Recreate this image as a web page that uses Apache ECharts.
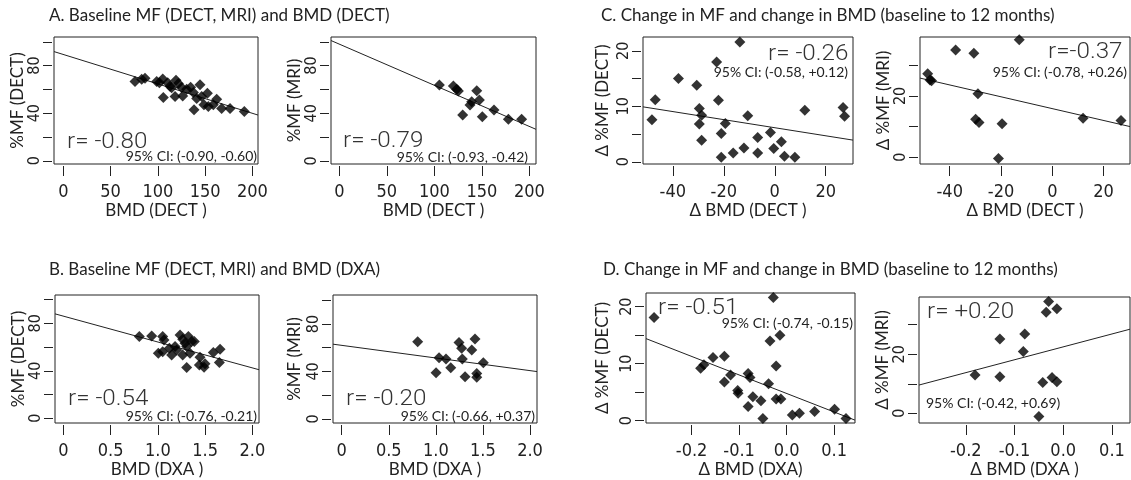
<!DOCTYPE html>
<html>
<head>
<meta charset="UTF-8">
<title>MF vs BMD</title>
<script src="https://cdn.jsdelivr.net/npm/echarts@6/dist/echarts.min.js"></script>
<style>
  html, body { margin: 0; padding: 0; background: #fff; }
  #main { width: 1131px; height: 480px; }
</style>
</head>
<body>
<div id="main"></div>
<script>
// ---- data ----
// A: baseline MF vs BMD (DECT)
var a1Bmd = [75.8, 82.9, 86.4, 98.8, 105.2, 101.6, 105.8, 110.4, 112.9, 119.2, 121.7, 125.2, 118.2, 126.3, 130.5, 134.7, 137.6, 144.6, 138.3, 141.1, 146.4, 148.8, 152.4, 153.4, 158.7, 162.3, 167.5, 176.4, 191.5, 114.6];
var a1Mf  = [66.6, 68.5, 69.3, 66.6, 68.8, 65.5, 53.1, 65.5, 62.7, 67.7, 65.0, 61.5, 54.0, 54.5, 60.1, 61.8, 57.3, 63.8, 42.8, 52.3, 54.0, 47.0, 56.8, 45.6, 47.0, 51.7, 44.0, 44.0, 41.4, 61.3];
var a2Bmd = [105.3, 120.0, 123.5, 125.3, 144.6, 139.3, 137.5, 147.4, 129.8, 150.5, 162.8, 177.9, 191.9];
var a2Mf  = [63.8, 62.9, 60.1, 58.7, 59.0, 49.8, 47.0, 51.2, 38.6, 37.2, 42.8, 35.0, 35.0];
// B: baseline MF vs BMD (DXA)
var b1Bmd = [0.804, 0.935, 1.051, 1.065, 1.005, 1.051, 1.146, 1.182, 1.235, 1.263, 1.287, 1.323, 1.358, 1.386, 1.263, 1.340, 1.305, 1.446, 1.439, 1.499, 1.489, 1.587, 1.658, 1.651, 1.199, 1.305, 1.122];
var b1Mf  = [68.8, 69.3, 68.8, 66.0, 54.7, 56.1, 53.3, 60.4, 70.2, 66.5, 63.2, 68.8, 64.6, 64.6, 53.3, 54.7, 42.7, 51.4, 44.9, 45.8, 42.9, 55.3, 58.1, 46.9, 57.5, 60.4, 58.9];
var b2Bmd = [0.807, 1.002, 1.034, 1.108, 1.158, 1.246, 1.274, 1.281, 1.310, 1.381, 1.416, 1.434, 1.434, 1.504];
var b2Mf  = [65.1, 39.0, 51.6, 50.5, 43.2, 64.3, 59.5, 50.5, 35.6, 58.1, 67.4, 38.3, 35.1, 47.4];
// C: change in MF vs change in BMD (DECT)
var c1Dbmd = [-48.2, -46.9, -37.8, -30.6, -29.6, -28.7, -29.6, -28.7, -22.8, -22.1, -19.4, -21.0, -21.0, -13.7, -16.3, -12.1, -10.6, -6.7, -6.7, -1.7, -0.4, 2.6, 3.8, 7.9, 11.8, 26.8, 27.4];
var c1Dmf  = [7.6, 11.2, 15.0, 13.8, 9.6, 8.4, 6.8, 3.9, 18.0, 11.1, 6.9, 5.1, 0.8, 21.6, 1.6, 2.5, 8.3, 4.4, 1.6, 5.3, 2.4, 3.6, 1.0, 0.8, 9.3, 9.8, 8.2];
var c2Dbmd = [-48.6, -47.7, -47.1, -37.7, -30.6, -12.9, -29.0, -29.9, -28.6, -19.6, -21.0, 12.0, 26.8];
var c2Dmf  = [27.2, 25.2, 24.9, 35.0, 33.9, 38.3, 20.7, 12.4, 11.3, 10.9, -0.4, 12.7, 12.0];
// D: change in MF vs change in BMD (DXA)
var d1Dbmd = [-0.279, -0.181, -0.174, -0.155, -0.131, -0.131, -0.118, -0.103, -0.102, -0.081, -0.077, -0.081, -0.071, -0.054, -0.050, -0.038, -0.035, -0.028, -0.022, -0.014, -0.022, -0.012, 0.012, 0.027, 0.059, 0.101, 0.125];
var d1Dmf  = [18.1, 9.2, 9.8, 11.1, 11.3, 6.8, 8.0, 5.3, 4.8, 8.3, 7.6, 2.5, 4.2, 3.5, 0.4, 6.5, 14.0, 21.6, 9.6, 15.0, 3.8, 3.8, 1.0, 1.3, 1.6, 2.0, 0.4];
var d2Dbmd = [-0.181, -0.130, -0.130, -0.079, -0.082, -0.030, -0.035, -0.013, -0.042, -0.023, -0.013, -0.050];
var d2Dmf  = [13.0, 25.2, 12.4, 26.9, 20.9, 37.9, 34.2, 35.4, 10.4, 12.1, 10.7, -1.1];

// fitted lines: [intercept, slope]
var fitA1 = [89.3, -0.247];
var fitA2 = [98.0, -0.345];
var fitB1 = [86.0, -21.8];
var fitB2 = [62.0, -10.65];
var fitC1 = [6.14, -0.0728];
var fitC2 = [15.85, -0.193];
var fitD1 = [4.78, -32.5];
var fitD2 = [22.5, 43.7];

// ticks and tick labels
var ticksBmdDect = [0, 50, 100, 150, 200];
var ticksBmdDxa = [0, 0.5, 1, 1.5, 2];
var labelsBmdDxa = ['0', '0.5', '1.0', '1.5', '2.0'];
var ticksDBmdDect = [-40, -20, 0, 20];
var ticksDBmdDxa = [-0.2, -0.1, 0, 0.1];
var labelsDBmdDxa = ['-0.2', '-0.1', '0.0', '0.1'];
var ticksMf = [0, 20, 40, 60, 80, 100];
var labelsMf = [0, 40, 80];
var ticksDMfDect = [0, 5, 10, 15, 20];
var labelsDMfDect = [0, 10, 20];
var ticksDMfMri = [0, 10, 20, 30];
var labelsDMfMri = [0, 20];

var titles = [
  'A. Baseline MF (DECT, MRI) and BMD (DECT)',
  'B. Baseline MF (DECT, MRI) and BMD (DXA)',
  'C. Change in MF and change in BMD (baseline to 12 months)',
  'D. Change in MF and change in BMD (baseline to 12 months)'
];

// ---- layout ----
var labelFont = "'Liberation Sans Narrow', 'DejaVu Sans Condensed', sans-serif";
var textFont = "Lato, 'Open Sans', sans-serif";
var ink = '#222';

var panels = [
  { x: a1Bmd, y: a1Mf, fit: fitA1, box: [54, 37, 204, 127], xr: [-9.9, 206], yr: [-2.7, 104],
    xt: ticksBmdDect, yt: ticksMf, yl: labelsMf, xn: 'BMD (DECT )', yn: '%MF (DECT)', yGap: 24,
    r: 'r= -0.80', rPos: [67, 142, 'left'], ci: '95% CI: (-0.90, -0.60)', ciPos: [257, 156, 'right'] },
  { x: a2Bmd, y: a2Mf, fit: fitA2, box: [331, 37, 205, 127], xr: [-8.8, 207], yr: [-2.5, 104],
    xt: ticksBmdDect, yt: ticksMf, yl: labelsMf, xn: 'BMD (DECT )', yn: '%MF (MRI)', yGap: 26,
    r: 'r= -0.79', rPos: [343, 141, 'left'], ci: '95% CI: (-0.93, -0.42)', ciPos: [528, 157, 'right'] },
  { x: c1Dbmd, y: c1Dmf, fit: fitC1, box: [643, 37, 210, 127], xr: [-51.7, 30.7], yr: [-0.4, 22.5],
    xt: ticksDBmdDect, yt: ticksDMfDect, yl: labelsDMfDect, xn: '\u0394 BMD (DECT )', yn: '\u0394 %MF (DECT)', yGap: 30,
    r: 'r= -0.26', rPos: [768, 54, 'left'], ci: '95% CI: (-0.58, +0.12)', ciPos: [848, 72, 'right'] },
  { x: c2Dbmd, y: c2Dmf, fit: fitC2, box: [920, 37, 210, 127], xr: [-51.6, 30.3], yr: [-2.2, 39.2],
    xt: ticksDBmdDect, yt: ticksDMfMri, yl: labelsDMfMri, xn: '\u0394 BMD (DECT )', yn: '\u0394 %MF (MRI)', yGap: 25,
    r: 'r=-0.37', rPos: [1048, 52, 'left'], ci: '95% CI: (-0.78, +0.26)', ciPos: [1127, 72, 'right'] },
  { x: b1Bmd, y: b1Mf, fit: fitB1, box: [55, 295, 204, 128], xr: [-0.088, 2.07], yr: [-4.0, 103.8],
    xt: ticksBmdDxa, xl: labelsBmdDxa, yt: ticksMf, yl: labelsMf, xn: 'BMD (DXA )', yn: '%MF (DECT)', yGap: 24,
    r: 'r= -0.54', rPos: [68, 399, 'left'], ci: '95% CI: (-0.76, -0.21)', ciPos: [257, 416, 'right'] },
  { x: b2Bmd, y: b2Mf, fit: fitB2, box: [333, 295, 204, 128], xr: [-0.092, 2.074], yr: [-3.4, 104.4],
    xt: ticksBmdDxa, xl: labelsBmdDxa, yt: ticksMf, yl: labelsMf, xn: 'BMD (DXA )', yn: '%MF (MRI)', yGap: 28,
    r: 'r= -0.20', rPos: [346, 399, 'left'], ci: '95% CI: (-0.66, +0.37)', ciPos: [535, 416, 'right'] },
  { x: d1Dbmd, y: d1Dmf, fit: fitD1, box: [646, 293, 209, 130], xr: [-0.296, 0.144], yr: [-0.4, 22.4],
    xt: ticksDBmdDxa, xl: labelsDBmdDxa, yt: ticksDMfDect, yl: labelsDMfDect, xn: '\u0394 BMD (DXA)', yn: '\u0394 %MF (DECT)', yGap: 33,
    r: 'r= -0.51', rPos: [658, 308, 'left'], ci: '95% CI: (-0.74, -0.15)', ciPos: [853, 323, 'right'] },
  { x: d2Dbmd, y: d2Dmf, fit: fitD2, box: [919, 297, 211, 126], xr: [-0.296, 0.137], yr: [-3.3, 39.4],
    xt: ticksDBmdDxa, xl: labelsDBmdDxa, yt: ticksDMfMri, yl: labelsDMfMri, xn: '\u0394 BMD (DXA )', yn: '\u0394 %MF (MRI)', yGap: 25,
    r: 'r= +0.20', rPos: [927, 312, 'left'], ci: '95% CI: (-0.42, +0.69)', ciPos: [926, 403, 'left'] }
];

var titlePos = [[49, 16], [49, 270], [601, 16], [603, 270]];

function zip(xs, ys) {
  return xs.map(function (v, i) { return [v, ys[i]]; });
}

var grids = [], xAxes = [], yAxes = [], series = [], texts = [];

panels.forEach(function (p, i) {
  grids.push({
    left: p.box[0], top: p.box[1], width: p.box[2], height: p.box[3],
    show: true, borderColor: ink, borderWidth: 1, backgroundColor: 'transparent'
  });
  xAxes.push({
    gridIndex: i, type: 'value', min: p.xr[0], max: p.xr[1], offset: 2, position: 'bottom',
    axisLine: { show: false, onZero: false }, splitLine: { show: false },
    axisTick: { show: true, length: 10, lineStyle: { color: ink }, customValues: p.xt },
    axisLabel: {
      customValues: p.xt, margin: 17, color: ink, fontSize: 18, fontFamily: labelFont,
      formatter: function (v) {
        if (!p.xl) return String(v);
        var k = p.xt.indexOf(v);
        return k >= 0 ? p.xl[k] : String(v);
      }
    },
    name: p.xn, nameLocation: 'middle', nameGap: 36,
    nameTextStyle: { color: ink, fontSize: 17, fontFamily: textFont }
  });
  yAxes.push({
    gridIndex: i, type: 'value', min: p.yr[0], max: p.yr[1], offset: 2, position: 'left',
    axisLine: { show: false, onZero: false }, splitLine: { show: false },
    axisTick: { show: true, length: 9, lineStyle: { color: ink }, customValues: p.yt },
    axisLabel: { customValues: p.yl, rotate: 90, margin: 9, color: ink, fontSize: 16, fontFamily: labelFont },
    name: p.yn, nameLocation: 'middle', nameGap: p.yGap,
    nameTextStyle: { color: ink, fontSize: 17, fontFamily: textFont }
  });
  series.push({
    type: 'scatter', xAxisIndex: i, yAxisIndex: i,
    data: zip(p.x, p.y), symbol: 'diamond', symbolSize: 11,
    itemStyle: { color: '#000' }, silent: true
  });
  var x0 = p.xr[0], x1 = p.xr[1];
  series.push({
    type: 'line', xAxisIndex: i, yAxisIndex: i, showSymbol: false, symbol: 'none',
    data: [[x0, p.fit[0] + p.fit[1] * x0], [x1, p.fit[0] + p.fit[1] * x1]],
    lineStyle: { color: ink, width: 1 }, silent: true, clip: true, z: 1
  });
  // correlation text in a thin face
  texts.push({
    type: 'text', x: p.rPos[0], y: p.rPos[1], scaleX: 1.1,
    style: { text: p.r, fill: '#333', font: '300 22px Roboto, sans-serif', textAlign: p.rPos[2], textVerticalAlign: 'middle', align: p.rPos[2], verticalAlign: 'middle' }
  });
  texts.push({
    type: 'text', x: p.ciPos[0], y: p.ciPos[1],
    style: { text: p.ci, fill: ink, font: '14px ' + textFont, textAlign: p.ciPos[2], textVerticalAlign: 'middle', align: p.ciPos[2], verticalAlign: 'middle' }
  });
});

titles.forEach(function (t, i) {
  texts.push({
    type: 'text', x: titlePos[i][0], y: titlePos[i][1],
    style: { text: t, fill: ink, font: '17px ' + textFont, textAlign: 'left', textVerticalAlign: 'middle', align: 'left', verticalAlign: 'middle' }
  });
});

var myChart = echarts.init(document.getElementById('main'));
myChart.setOption({
  animation: false,
  backgroundColor: '#fff',
  grid: grids,
  xAxis: xAxes,
  yAxis: yAxes,
  series: series,
  graphic: texts
});
</script>
</body>
</html>
